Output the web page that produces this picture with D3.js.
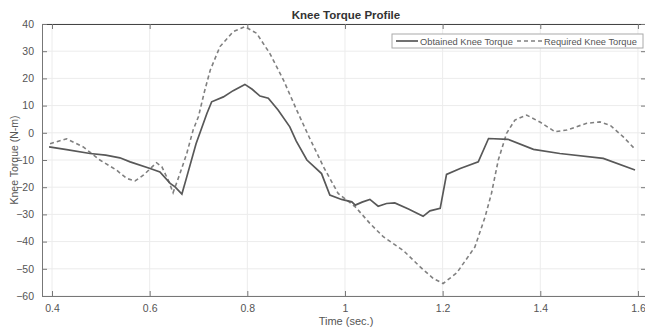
<!DOCTYPE html>
<html>
<head>
<meta charset="utf-8">
<script src="https://cdn.jsdelivr.net/npm/d3@7"></script>
<style>
  body { margin: 0; background: #fff; }
  text { font-family: "Liberation Sans", Arial, sans-serif; }
</style>
</head>
<body>
<div id="container"></div>
<script>
let w = 645;
let h = 327;

// chart values
let obtainedT = [0.394, 0.43, 0.478, 0.51, 0.539, 0.56, 0.601, 0.621, 0.642, 0.652, 0.666, 0.676, 0.695, 0.717, 0.727, 0.751, 0.771, 0.795, 0.81, 0.826, 0.843, 0.863, 0.887, 0.9, 0.922, 0.94, 0.952, 0.969, 0.993, 1.014, 1.021, 1.035, 1.051, 1.068, 1.085, 1.102, 1.13, 1.16, 1.174, 1.195, 1.208, 1.236, 1.273, 1.294, 1.334, 1.386, 1.44, 1.529, 1.594];
let obtainedV = [-5.2, -6.2, -7.6, -8.2, -9.2, -10.7, -13.1, -14.4, -18.6, -19.9, -22.5, -16.2, -4, 7, 11.4, 13.2, 15.5, 17.8, 16, 13.5, 12.7, 8.4, 2.2, -3, -10, -13, -15, -22.9, -24.5, -25.4, -26.6, -25.5, -24.5, -27, -26, -25.8, -28, -30.7, -28.7, -27.8, -15.3, -13.1, -10.7, -2.1, -2.4, -6.1, -7.6, -9.4, -13.7];

let requiredT = [0.396, 0.43, 0.464, 0.498, 0.532, 0.553, 0.57, 0.587, 0.614, 0.625, 0.638, 0.648, 0.662, 0.676, 0.689, 0.7, 0.712, 0.724, 0.744, 0.771, 0.795, 0.819, 0.846, 0.874, 0.901, 0.928, 0.956, 0.986, 1.021, 1.051, 1.079, 1.119, 1.154, 1.181, 1.201, 1.229, 1.266, 1.287, 1.3, 1.314, 1.331, 1.348, 1.372, 1.399, 1.43, 1.454, 1.495, 1.522, 1.543, 1.57, 1.594];
let requiredV = [-4, -2.2, -5.2, -10, -13.7, -16.8, -17.7, -15.6, -11, -12.5, -17.4, -22, -15, -7.6, 1, 6, 15, 23, 31.7, 37.2, 39, 36.6, 29.2, 19.4, 8.4, -2.1, -12.5, -22.3, -27.2, -33.3, -38.3, -43.2, -49.3, -53.6, -55.4, -51.5, -42, -30.9, -22.3, -10, -0.2, 4.7, 6.5, 4, 0.4, 1, 3.5, 4, 2.8, -1.5, -6];

let xTicks = [0.4, 0.6, 0.8, 1, 1.2, 1.4, 1.6];
let yTicks = [-60, -50, -40, -30, -20, -10, 0, 10, 20, 30, 40];
let seriesNames = ["Obtained Knee Torque", "Required Knee Torque"];

let padL = 42, padR = 646, padT = 24, padB = 296;

let viz = d3.select("#container")
  .append("svg")
    .attr("width", w)
    .attr("height", h)
;

let xScale = d3.scaleLinear().domain([0.3795, 1.6165]).range([padL, padR]);
let yScale = d3.scaleLinear().domain([-60, 40]).range([padB, padT]);

// grid
let grid = viz.append("g").classed("grid", true);
grid.selectAll(".vg").data(xTicks).enter().append("line")
  .attr("x1", d => xScale(d)).attr("x2", d => xScale(d))
  .attr("y1", padT).attr("y2", padB)
  .attr("stroke", "#ececec").attr("stroke-width", 1);
grid.selectAll(".hg").data(yTicks).enter().append("line")
  .attr("y1", d => yScale(d)).attr("y2", d => yScale(d))
  .attr("x1", padL).attr("x2", padR)
  .attr("stroke", "#ececec").attr("stroke-width", 1);

// axes with inward ticks
let xAxis = d3.axisBottom(xScale).tickValues(xTicks).tickSize(-5).tickPadding(9).tickFormat(d3.format("~g"));
let xAxisGroup = viz.append("g").attr("transform", "translate(0," + padB + ")").call(xAxis);
let xAxisTop = viz.append("g").attr("transform", "translate(0," + padT + ")")
  .call(d3.axisTop(xScale).tickValues(xTicks).tickSize(-5).tickFormat(""));
let yAxis = d3.axisLeft(yScale).tickValues(yTicks).tickSize(-5).tickPadding(8);
let yAxisGroup = viz.append("g").attr("transform", "translate(" + padL + ",0)").call(yAxis);
let yAxisRight = viz.append("g").attr("transform", "translate(" + padR + ",0)")
  .call(d3.axisRight(yScale).tickValues(yTicks).tickSize(-5).tickFormat(""));

[xAxisGroup, xAxisTop, yAxisGroup, yAxisRight].forEach(g => {
  g.select(".domain").attr("stroke", "#777").attr("stroke-width", 1);
  g.selectAll("line").attr("stroke", "#777");
  g.selectAll("text").attr("font-size", 10.5).attr("fill", "#555");
});
xAxisTop.select(".domain").attr("stroke", "#444");

// lines
let obtained = obtainedT.map((t, i) => [t, obtainedV[i]]);
let required = requiredT.map((t, i) => [t, requiredV[i]]);
let lineGen = d3.line().x(d => xScale(d[0])).y(d => yScale(d[1]));

viz.append("path").datum(required)
  .attr("d", lineGen)
  .attr("fill", "none")
  .attr("stroke", "#808080")
  .attr("stroke-width", 1.6)
  .attr("stroke-dasharray", "4,3");

viz.append("path").datum(obtained)
  .attr("d", lineGen)
  .attr("fill", "none")
  .attr("stroke", "#585858")
  .attr("stroke-width", 1.7);

// title and labels
viz.append("text").text("Knee Torque Profile")
  .attr("x", 346).attr("y", 19)
  .attr("text-anchor", "middle")
  .attr("font-size", 11.5).attr("font-weight", "bold").attr("fill", "#333");

viz.append("text").text("Time (sec.)")
  .attr("x", 346).attr("y", 325)
  .attr("text-anchor", "middle")
  .attr("font-size", 11).attr("fill", "#555");

viz.append("text").text("Knee Torque (N-m)")
  .attr("transform", "translate(18," + ((padT + padB) / 2) + ") rotate(-90)")
  .attr("text-anchor", "middle")
  .attr("font-size", 10.5).attr("fill", "#555");

// legend
let legend = viz.append("g").classed("legend", true);
legend.append("rect")
  .attr("x", 392).attr("y", 34).attr("width", 251).attr("height", 14)
  .attr("fill", "#fff").attr("stroke", "#aaa").attr("stroke-width", 1);
legend.append("line")
  .attr("x1", 396).attr("x2", 418).attr("y1", 41).attr("y2", 41)
  .attr("stroke", "#585858").attr("stroke-width", 1.7);
legend.append("text").text(seriesNames[0])
  .attr("x", 420).attr("y", 44.5).attr("font-size", 9.3).attr("fill", "#555");
legend.append("line")
  .attr("x1", 517).attr("x2", 542).attr("y1", 41).attr("y2", 41)
  .attr("stroke", "#808080").attr("stroke-width", 1.6).attr("stroke-dasharray", "4,3");
legend.append("text").text(seriesNames[1])
  .attr("x", 544).attr("y", 44.5).attr("font-size", 9.3).attr("fill", "#555");
</script>
</body>
</html>
